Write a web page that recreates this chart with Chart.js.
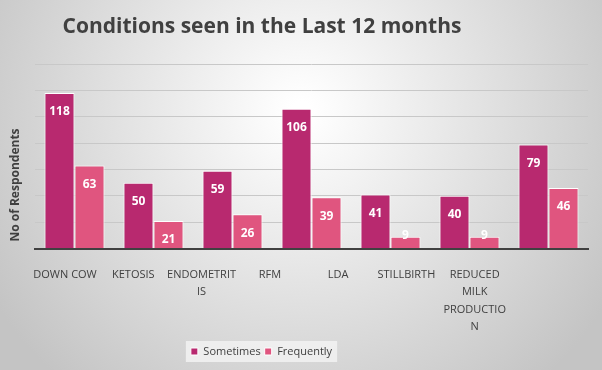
<!DOCTYPE html>
<html>
<head>
<meta charset="utf-8">
<script src="https://cdn.jsdelivr.net/npm/chart.js@4"></script>
<style>
  html, body { margin: 0; padding: 0; }
  #wrap { width: 602px; height: 370px; }
</style>
</head>
<body>
<div id="wrap"><canvas id="barChart"></canvas></div>
<script>
const categories = [
  ["DOWN COW"], ["KETOSIS"], ["ENDOMETRIT", "IS"], ["RFM"], ["LDA"],
  ["STILLBIRTH"], ["REDUCED", "MILK", "PRODUCTIO", "N"]
];
const sometimes = [118, 50, 59, 106, 41, 40, 79];
const frequently = [63, 21, 26, 39, 9, 9, 46];

const titleText = 'Conditions seen in the Last 12 months';
const yTitleText = 'No of Respondents';

const fontFamily = "'Open Sans', 'Liberation Sans', sans-serif";

// gradient grey background like the office chart area
const bgPlugin = {
  id: 'bg',
  afterLayout(chart) {
    // the original legend sits left of centre, like the title
    const lg = chart.legend;
    if (lg) {
      lg.left -= 50;
      lg.right -= 50;
      (lg.legendHitBoxes || []).forEach(b => { b.left -= 50; });
    }
  },
  beforeDraw(chart) {
    const { ctx, width, height } = chart;
    const g = ctx.createRadialGradient(width / 2, height * 0.3, 10, width / 2, height * 0.3, width * 0.6);
    g.addColorStop(0, '#ffffff');
    g.addColorStop(1, '#c4c4c4');
    ctx.save();
    ctx.fillStyle = g;
    ctx.fillRect(0, 0, width, height);
    // light panel behind the legend items only
    const lg = chart.legend;
    if (lg && lg.legendHitBoxes && lg.legendHitBoxes.length) {
      const boxes = lg.legendHitBoxes;
      const x0 = Math.min(...boxes.map(b => b.left)) - 5;
      const x1 = Math.max(...boxes.map(b => b.left + b.width)) + 5;
      const y0 = Math.min(...boxes.map(b => b.top)) - 5;
      const y1 = Math.max(...boxes.map(b => b.top + b.height)) + 5;
      ctx.fillStyle = 'rgba(242, 242, 242, 0.85)';
      ctx.fillRect(x0, y0, x1 - x0, y1 - y0);
    }
    // chart title (sits a bit left of centre, as in the original)
    ctx.fillStyle = '#404040';
    ctx.font = 'bold 21px ' + fontFamily;
    ctx.textAlign = 'center';
    ctx.textBaseline = 'middle';
    ctx.fillText(titleText, 262, 27);
    // y axis title
    ctx.translate(16, 185);
    ctx.rotate(-Math.PI / 2);
    ctx.font = 'bold 12px ' + fontFamily;
    ctx.fillText(yTitleText, 0, 0);
    ctx.restore();
  }
};

// white value labels at the top end of each bar
const valuePlugin = {
  id: 'values',
  afterDatasetsDraw(chart) {
    const { ctx } = chart;
    ctx.save();
    ctx.fillStyle = '#ffffff';
    ctx.font = 'bold 12px ' + fontFamily;
    ctx.textAlign = 'center';
    ctx.textBaseline = 'middle';
    chart.data.datasets.forEach((ds, i) => {
      chart.getDatasetMeta(i).data.forEach((bar, j) => {
        const h = bar.base - bar.y;
        const y = h > 20 ? bar.y + 19 : bar.y - 1;
        ctx.fillText(String(ds.data[j]), bar.x, y);
      });
    });
    ctx.restore();
  }
};

new Chart(document.getElementById('barChart'), {
  type: 'bar',
  data: {
    labels: categories,
    datasets: [{
      label: 'Sometimes',
      data: sometimes,
      backgroundColor: '#b8296f',
      borderColor: '#ffffff',
      borderWidth: 1
    }, {
      label: 'Frequently',
      data: frequently,
      backgroundColor: '#e0557f',
      borderColor: '#ffffff',
      borderWidth: 1
    }]
  },
  options: {
    responsive: true,
    maintainAspectRatio: false,
    animation: false,
    categoryPercentage: 0.76,
    barPercentage: 1,
    layout: { padding: { left: 35, right: 14, top: 64, bottom: 3 } },
    plugins: {
      title: { display: false },
      legend: {
        position: 'bottom',
        labels: {
          color: '#404040',
          font: { family: fontFamily, size: 11 },
          boxWidth: 7,
          boxHeight: 7,
          padding: 4
        }
      },
      tooltip: { enabled: false }
    },
    scales: {
      x: {
        grid: { display: false, drawTicks: false },
        border: { color: '#404040', width: 2 },
        ticks: { display: false }
      },
      // category names: the original spaces them a little tighter than the bars
      xLabels: {
        type: 'linear',
        position: 'bottom',
        offset: false,
        bounds: 'data',
        min: -0.44,
        max: 7.66,
        grid: { display: false, drawTicks: false, offset: false },
        border: { display: false },
        afterBuildTicks(scale) {
          scale.ticks = categories.map((c, i) => ({ value: i }));
        },
        ticks: {
          color: '#404040',
          font: { family: fontFamily, size: 11, lineHeight: 1.6 },
          maxRotation: 0,
          autoSkip: false,
          padding: 17,
          callback: (v) => categories[v]
        },
        afterFit(scale) { scale.height -= 11; }
      },
      y: {
        min: 0,
        max: 140,
        ticks: { display: false, stepSize: 20 },
        grid: { color: '#c8c8c8', drawTicks: false },
        border: { display: false }
      }
    }
  },
  plugins: [bgPlugin, valuePlugin]
});
</script>
</body>
</html>
